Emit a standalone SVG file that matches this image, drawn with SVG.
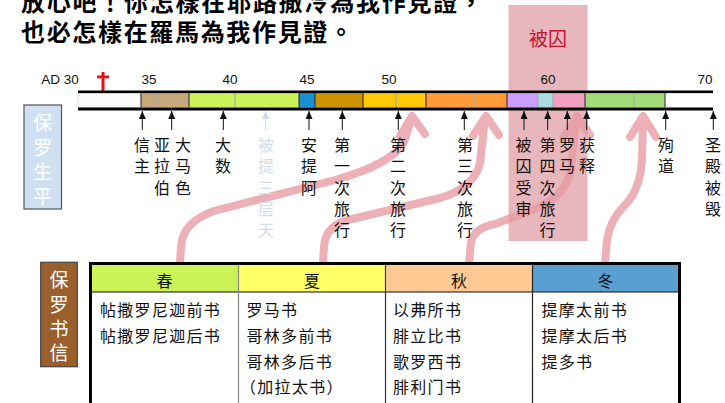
<svg xmlns="http://www.w3.org/2000/svg" width="725" height="403" viewBox="0 0 725 403">
<style>
.title{font-family:"Noto Sans CJK TC","Noto Sans CJK SC",sans-serif;font-size:24px;font-weight:bold;fill:#000}
.yr{font-family:"Liberation Sans",Arial,sans-serif;font-size:13.5px;fill:#111;text-anchor:middle}
.ev{font-family:"Noto Sans CJK SC",sans-serif;font-size:16px;fill:#111;text-anchor:middle}
.div{stroke:#aaa;stroke-width:1.2}
.bk{stroke:#222;stroke-width:1}
.sa{stroke:#111;stroke-width:1;fill:none;marker-end:url(#ah)}
.pa{fill:none;stroke:#e89aa3;stroke-width:8;stroke-linejoin:round;stroke-linecap:butt}
.ph{fill:none;stroke:#e89aa3;stroke-width:8;stroke-linejoin:round;stroke-linecap:round}
.cell{font-family:"Noto Sans CJK SC",sans-serif;font-size:16px;fill:#111;letter-spacing:1.3px}
.hd{font-family:"Noto Sans CJK SC",sans-serif;font-size:16px;fill:#111;text-anchor:middle}
.side{font-family:"Noto Sans CJK SC",sans-serif;font-size:19px;fill:#fff;text-anchor:middle}
</style>
<defs>
<marker id="ah" markerUnits="userSpaceOnUse" markerWidth="8" markerHeight="7" refX="8" refY="3.5" orient="auto">
<path d="M0,0 L8,3.5 L0,7 z" fill="#111"/>
</marker>
<marker id="ahl" markerUnits="userSpaceOnUse" markerWidth="8" markerHeight="7" refX="8" refY="3.5" orient="auto">
<path d="M0,0 L8,3.5 L0,7 z" fill="#cfd9ef"/>
</marker>
</defs>
<rect width="725" height="403" fill="#fff"/>

<g id="title">
<text class="title" x="21" y="11" textLength="462" lengthAdjust="spacing">放心吧！你怎樣在耶路撒冷為我作見證，</text>
<text class="title" x="21" y="41" textLength="332" lengthAdjust="spacing">也必怎樣在羅馬為我作見證。</text>
</g>

<g id="imprisoned">
<rect x="508.5" y="5" width="79" height="236" fill="#e8b6bd"/>
<text x="548" y="46" font-family="Noto Sans CJK SC,sans-serif" font-size="19" fill="#c4122f" text-anchor="middle">被囚</text>
</g>

<g id="years">
<text class="yr" x="60" y="84">AD 30</text>
<text class="yr" x="149" y="84">35</text>
<text class="yr" x="230" y="84">40</text>
<text class="yr" x="307" y="84">45</text>
<text class="yr" x="389" y="84">50</text>
<text class="yr" x="548" y="84">60</text>
<text class="yr" x="705" y="84">70</text>
</g>

<g id="cross" fill="#ee1111">
<rect x="101.5" y="72" width="3" height="19"/>
<rect x="97" y="75.5" width="12" height="2.8"/>
</g>

<g id="timeline">
<rect x="78" y="93" width="63" height="14.5" fill="#fafafa" stroke="#ddd"/>
<rect x="141" y="93" width="48" height="14.5" fill="#c7a87a"/>
<rect x="189" y="93" width="110" height="14.5" fill="#ccf25a"/>
<rect x="299" y="93" width="16" height="14.5" fill="#1b8fd0"/>
<rect x="315" y="93" width="48" height="14.5" fill="#cc9200"/>
<rect x="363" y="93" width="63" height="14.5" fill="#ffc905"/>
<rect x="426" y="93" width="81" height="14.5" fill="#ff9b3b"/>
<rect x="507" y="93" width="31" height="14.5" fill="#cc9cff"/>
<rect x="538" y="93" width="15" height="14.5" fill="#acdce2"/>
<rect x="553" y="93" width="32" height="14.5" fill="#f2a0c0"/>
<rect x="585" y="93" width="80" height="14.5" fill="#a2dc78"/>
<rect x="665" y="93" width="48" height="14.5" fill="#fff"/>
<line class="div" x1="157" y1="93" x2="157" y2="107.5"/>
<line class="div" x1="235" y1="93" x2="235" y2="107.5"/>
<line class="div" x1="396" y1="93" x2="396" y2="107.5"/>
<line class="div" x1="474" y1="93" x2="474" y2="107.5"/>
<line class="div" x1="538" y1="93" x2="538" y2="107.5"/>
<line class="div" x1="553" y1="93" x2="553" y2="107.5"/>
<line class="div" x1="634" y1="93" x2="634" y2="107.5"/>
<line class="bk" x1="141" y1="93" x2="141" y2="107.5"/>
<line class="bk" x1="189" y1="93" x2="189" y2="107.5"/>
<line class="bk" x1="299" y1="93" x2="299" y2="107.5"/>
<line class="bk" x1="315" y1="93" x2="315" y2="107.5"/>
<line class="bk" x1="363" y1="93" x2="363" y2="107.5"/>
<line class="bk" x1="426" y1="93" x2="426" y2="107.5"/>
<line class="bk" x1="507" y1="93" x2="507" y2="107.5"/>
<line class="bk" x1="585" y1="93" x2="585" y2="107.5"/>
<line class="bk" x1="665" y1="93" x2="665" y2="107.5"/>
<rect x="78" y="90.5" width="635" height="2.6" fill="#000"/>
<rect x="78" y="107.5" width="635" height="3" fill="#000"/>
</g>

<g id="life-label">
<rect x="24" y="105" width="37.5" height="104" fill="#cfe0f3" stroke="#555" stroke-width="1.2"/>
<text class="side"><tspan x="42.7" y="130">保</tspan><tspan x="42.7" y="155">罗</tspan><tspan x="42.7" y="179">生</tspan><tspan x="42.7" y="203.5">平</tspan></text>
</g>

<g id="connectors">
<g id="paul-arrows" opacity="0.78">
<path class="pa" d="M180,263 L181,246 Q183,222 214,211 L335,180 Q392,164 404,142 L412,117"/>
<path class="ph" d="M400,136 L412,116 L425,134"/>
<path class="pa" d="M323,263 L324,246 Q326,224 352,219 L440,198 Q474,188 480,163 L485,117"/>
<path class="ph" d="M473,136 L486,116 L499,135"/>
<path class="pa" d="M469,263 L471,242 Q474,228 495,224 L535,209 Q566,196 571,170 L576,117"/>
<path class="ph" d="M564,137 L577,116 L590,135"/>
<path class="pa" d="M605,263 L607,240 Q610,220 625,205 Q640,190 642,160 L643,117"/>
<path class="ph" d="M630,137 L643,116 L656,137"/>
</g>
<g id="event-arrows">
<line class="sa" x1="142.3" y1="130" x2="142.3" y2="111"/>
<line class="sa" x1="171.7" y1="130" x2="171.7" y2="111"/>
<line class="sa" x1="223.3" y1="130" x2="223.3" y2="111"/>
<line x1="265.7" y1="130" x2="265.7" y2="111" stroke="#cfd9ef" stroke-width="1" marker-end="url(#ahl)"/>
<line class="sa" x1="309" y1="130" x2="309" y2="111"/>
<line class="sa" x1="342.3" y1="130" x2="342.3" y2="111"/>
<line class="sa" x1="398.3" y1="130" x2="398.3" y2="111"/>
<line class="sa" x1="464.3" y1="130" x2="464.3" y2="111"/>
<line class="sa" x1="524" y1="130" x2="524" y2="111"/>
<line class="sa" x1="547.7" y1="130" x2="547.7" y2="111"/>
<line class="sa" x1="567.3" y1="130" x2="567.3" y2="111"/>
<line class="sa" x1="586.7" y1="130" x2="586.7" y2="111"/>
<line class="sa" x1="665.7" y1="130" x2="665.7" y2="111"/>
<line class="sa" x1="713.3" y1="130" x2="713.3" y2="111"/>
</g>
</g>

<g id="ev-believe"><text class="ev"><tspan x="142" y="151">信</tspan><tspan x="142" y="172.3">主</tspan></text></g>
<g id="ev-arabia"><text class="ev"><tspan x="162" y="151">亚</tspan><tspan x="162" y="172.3">拉</tspan><tspan x="162" y="193.6">伯</tspan></text></g>
<g id="ev-damascus"><text class="ev"><tspan x="183" y="151">大</tspan><tspan x="183" y="172.3">马</tspan><tspan x="183" y="193.6">色</tspan></text></g>
<g id="ev-tarsus"><text class="ev"><tspan x="223" y="151">大</tspan><tspan x="223" y="172.3">数</tspan></text></g>
<g id="ev-heaven"><text class="ev" fill="#cfd9ef" style="fill:#d2dcf1"><tspan x="266" y="151">被</tspan><tspan x="266" y="172.3">提</tspan><tspan x="266" y="193.6">三</tspan><tspan x="266" y="214.9">层</tspan><tspan x="266" y="236.2">天</tspan></text></g>
<g id="ev-antioch"><text class="ev"><tspan x="309" y="151">安</tspan><tspan x="309" y="172.3">提</tspan><tspan x="309" y="193.6">阿</tspan></text></g>
<g id="ev-trip1"><text class="ev"><tspan x="342" y="151">第</tspan><tspan x="342" y="172.3">一</tspan><tspan x="342" y="193.6">次</tspan><tspan x="342" y="214.9">旅</tspan><tspan x="342" y="236.2">行</tspan></text></g>
<g id="ev-trip2"><text class="ev"><tspan x="398" y="151">第</tspan><tspan x="398" y="172.3">二</tspan><tspan x="398" y="193.6">次</tspan><tspan x="398" y="214.9">旅</tspan><tspan x="398" y="236.2">行</tspan></text></g>
<g id="ev-trip3"><text class="ev"><tspan x="465" y="151">第</tspan><tspan x="465" y="172.3">三</tspan><tspan x="465" y="193.6">次</tspan><tspan x="465" y="214.9">旅</tspan><tspan x="465" y="236.2">行</tspan></text></g>
<g id="ev-trial"><text class="ev"><tspan x="523.5" y="151">被</tspan><tspan x="523.5" y="172.3">囚</tspan><tspan x="523.5" y="193.6">受</tspan><tspan x="523.5" y="214.9">审</tspan></text></g>
<g id="ev-trip4"><text class="ev"><tspan x="547.5" y="151">第</tspan><tspan x="547.5" y="172.3">四</tspan><tspan x="547.5" y="193.6">次</tspan><tspan x="547.5" y="214.9">旅</tspan><tspan x="547.5" y="236.2">行</tspan></text></g>
<g id="ev-rome"><text class="ev"><tspan x="567" y="151">罗</tspan><tspan x="567" y="172.3">马</tspan></text></g>
<g id="ev-release"><text class="ev"><tspan x="587" y="151">获</tspan><tspan x="587" y="172.3">释</tspan></text></g>
<g id="ev-martyr"><text class="ev"><tspan x="666" y="151">殉</tspan><tspan x="666" y="172.3">道</tspan></text></g>
<g id="ev-temple"><text class="ev"><tspan x="713" y="151">圣</tspan><tspan x="713" y="172.3">殿</tspan><tspan x="713" y="193.6">被</tspan><tspan x="713" y="214.9">毁</tspan></text></g>

<g id="letters-label">
<rect x="40.7" y="262.3" width="36.6" height="104.4" fill="#9b5f2c" stroke="#444" stroke-width="1.2"/>
<text class="side"><tspan x="59" y="287">保</tspan><tspan x="59" y="311.5">罗</tspan><tspan x="59" y="336">书</tspan><tspan x="59" y="360">信</tspan></text>
</g>

<g id="letters-table">
<rect x="91" y="264.5" width="147.5" height="27.5" fill="#ccf25a"/>
<rect x="238.5" y="264.5" width="147" height="27.5" fill="#ffff66"/>
<rect x="385.5" y="264.5" width="147" height="27.5" fill="#ffc994"/>
<rect x="532.5" y="264.5" width="146" height="27.5" fill="#599fd2"/>
<line x1="91" y1="292" x2="679" y2="292" stroke="#111" stroke-width="1.2"/>
<line x1="238.5" y1="264" x2="238.5" y2="403" stroke="#888" stroke-width="1.2"/>
<line x1="385.5" y1="264" x2="385.5" y2="403" stroke="#333" stroke-width="1.2"/>
<line x1="532.5" y1="264" x2="532.5" y2="403" stroke="#222" stroke-width="1.2"/>
<line x1="89" y1="263.5" x2="681" y2="263.5" stroke="#000" stroke-width="3"/>
<line x1="90.5" y1="262" x2="90.5" y2="403" stroke="#000" stroke-width="3"/>
<line x1="679.5" y1="262" x2="679.5" y2="403" stroke="#000" stroke-width="3"/>
<text class="hd" x="164.5" y="287">春</text>
<text class="hd" x="312" y="287">夏</text>
<text class="hd" x="459" y="287">秋</text>
<text class="hd" x="605.5" y="287">冬</text>
<text class="cell" x="100" y="316">帖撒罗尼迦前书</text>
<text class="cell" x="100" y="342">帖撒罗尼迦后书</text>
<text class="cell" x="246.5" y="316">罗马书</text>
<text class="cell" x="246.5" y="342">哥林多前书</text>
<text class="cell" x="246.5" y="368">哥林多后书</text>
<text class="cell" x="240" y="393">（加拉太书）</text>
<text class="cell" x="393" y="316">以弗所书</text>
<text class="cell" x="393" y="342">腓立比书</text>
<text class="cell" x="393" y="368">歌罗西书</text>
<text class="cell" x="393" y="393">腓利门书</text>
<text class="cell" x="541.5" y="316">提摩太前书</text>
<text class="cell" x="541.5" y="342">提摩太后书</text>
<text class="cell" x="541.5" y="368">提多书</text>
</g>
</svg>
